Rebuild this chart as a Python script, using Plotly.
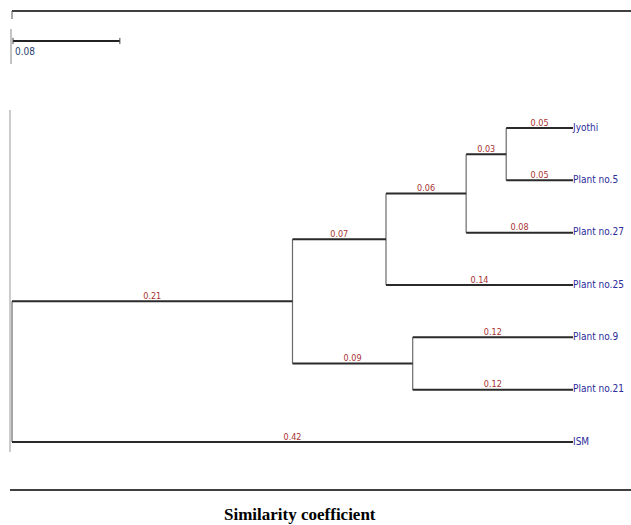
import plotly.graph_objects as go

# ---- data ----
leaves = ["Jyothi", "Plant no.5", "Plant no.27", "Plant no.25", "Plant no.9", "Plant no.21", "ISM"]
edge_child = ["A", "ISM", "B", "E", "C", "Plant no.25", "D", "Plant no.27", "Jyothi", "Plant no.5", "Plant no.9", "Plant no.21"]
edge_parent = ["root", "root", "A", "A", "B", "B", "C", "C", "D", "D", "E", "E"]
edge_length = [0.21, 0.42, 0.07, 0.09, 0.06, 0.14, 0.03, 0.08, 0.05, 0.05, 0.12, 0.12]
scale_bar_value = 0.08
axis_title = "Similarity coefficient"

# ---- tree layout ----
xpos = {"root": 0.0}
changed = True
while changed:
    changed = False
    for c, p, l in zip(edge_child, edge_parent, edge_length):
        if p in xpos and c not in xpos:
            xpos[c] = xpos[p] + l
            changed = True

ypos = {name: i for i, name in enumerate(leaves)}
children = {}
for c, p in zip(edge_child, edge_parent):
    children.setdefault(p, []).append(c)

def get_y(n):
    if n in ypos:
        return ypos[n]
    ys = [get_y(c) for c in children[n]]
    ypos[n] = (min(ys) + max(ys)) / 2
    return ypos[n]

get_y("root")

hx, hy, vx, vy = [], [], [], []
for c, p in zip(edge_child, edge_parent):
    hx += [xpos[p], xpos[c], None]
    hy += [ypos[c], ypos[c], None]
for p, cs in children.items():
    ys = [ypos[c] for c in cs]
    vx += [xpos[p], xpos[p], None]
    vy += [min(ys), max(ys), None]

W, H = 631, 525
x0_px, tip_px = 12, 573
tip_x = max(xpos[l] for l in leaves)
ppu = (tip_px - x0_px) / tip_x
y0_px, y6_px = 128, 442
ppl = (y6_px - y0_px) / (len(leaves) - 1)

NARROW = "Liberation Sans Narrow, DejaVu Sans Condensed, Roboto Condensed, Arial Narrow, sans-serif"

fig = go.Figure()
fig.add_trace(go.Scatter(x=vx, y=vy, mode="lines", line=dict(color="#6a6a6a", width=1.2),
                         hoverinfo="skip", showlegend=False))
fig.add_trace(go.Scatter(x=hx, y=hy, mode="lines", line=dict(color="#2a2a2a", width=2),
                         hoverinfo="skip", showlegend=False))

# leaf labels
fig.add_trace(go.Scatter(
    x=[xpos[l] for l in leaves], y=[ypos[l] for l in leaves], mode="text",
    text=leaves, textposition="middle right",
    textfont=dict(family=NARROW, size=10, color="#2b2b9a"),
    hoverinfo="skip", showlegend=False))

# branch labels
fig.add_trace(go.Scatter(
    x=[(xpos[p] + xpos[c]) / 2 for c, p in zip(edge_child, edge_parent)],
    y=[ypos[c] for c in edge_child], mode="text",
    text=[f"{l:.2f}" for l in edge_length], textposition="top center",
    textfont=dict(family=NARROW, size=9, color="#a83232"),
    hoverinfo="skip", showlegend=False))

def px(x):
    return x / W

def py(y):
    return 1 - y / H

shapes = [
    dict(type="line", xref="paper", yref="paper", x0=px(12), x1=px(631), y0=py(11), y1=py(11),
         line=dict(color="black", width=1.3)),
    dict(type="line", xref="paper", yref="paper", x0=px(12), x1=px(12), y0=py(11), y1=py(19),
         line=dict(color="#555", width=1)),
    dict(type="line", xref="paper", yref="paper", x0=px(11), x1=px(11), y0=py(29), y1=py(64),
         line=dict(color="#888", width=1)),
    dict(type="line", xref="paper", yref="paper", x0=px(10), x1=px(10), y0=py(110), y1=py(452),
         line=dict(color="#999", width=1)),
    dict(type="line", xref="paper", yref="paper", x0=px(10), x1=px(631), y0=py(490), y1=py(490),
         line=dict(color="black", width=1.3)),
]
# scale bar in data units
sb_x0 = 1 / ppu
sb_y = -y0_px / ppl + (41 / ppl)
shapes += [
    dict(type="line", xref="x", yref="y", x0=sb_x0, x1=sb_x0 + scale_bar_value, y0=sb_y, y1=sb_y,
         line=dict(color="#222", width=1.8)),
    dict(type="line", xref="x", yref="y", x0=sb_x0, x1=sb_x0, y0=sb_y - 0.06, y1=sb_y + 0.06,
         line=dict(color="#444", width=1)),
    dict(type="line", xref="x", yref="y", x0=sb_x0 + scale_bar_value, x1=sb_x0 + scale_bar_value,
         y0=sb_y - 0.06, y1=sb_y + 0.06, line=dict(color="#444", width=1)),
]

annotations = [
    dict(xref="x", yref="y", x=sb_x0, y=sb_y, text=f"{scale_bar_value:.2f}", showarrow=False,
         xanchor="left", yanchor="top", yshift=-3,
         font=dict(family=NARROW, size=10, color="#1f3f6f")),
    dict(xref="paper", yref="paper", x=px(300), y=py(514), text=f"<b>{axis_title}</b>", showarrow=False,
         xanchor="center", yanchor="middle",
         font=dict(family="Liberation Serif, Times New Roman, serif", size=17, color="black")),
]

fig.update_layout(
    width=W, height=H,
    margin=dict(l=0, r=0, t=0, b=0),
    paper_bgcolor="white", plot_bgcolor="white",
    xaxis=dict(range=[-x0_px / ppu, (W - x0_px) / ppu], visible=False, fixedrange=True),
    yaxis=dict(range=[(len(leaves) - 1) + (H - y6_px) / ppl, -y0_px / ppl], visible=False, fixedrange=True),
    shapes=shapes, annotations=annotations,
    showlegend=False,
)

fig.write_html("out.html", config={"displayModeBar": False},
               post_script="document.body.style.margin='0';document.body.style.overflow='hidden';")
